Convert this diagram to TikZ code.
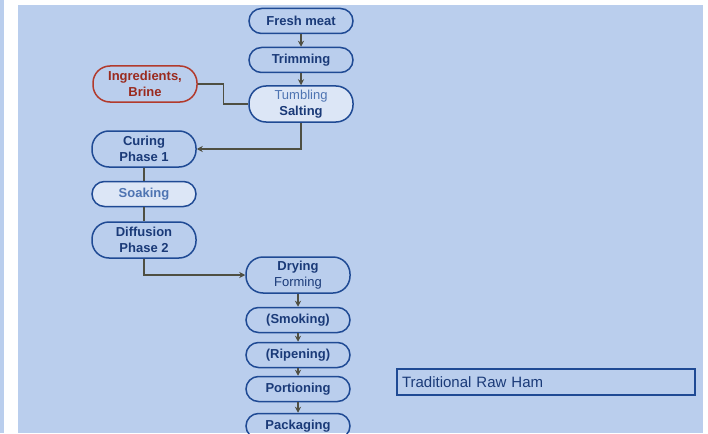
\documentclass[tikz,border=0pt]{standalone}
\usepackage{fontspec}
\setmainfont{Liberation Sans}
\usetikzlibrary{arrows.meta}
\definecolor{bgblue}{HTML}{BACEED}
\definecolor{boxline}{HTML}{1F4A94}
\definecolor{boxtext}{HTML}{1A3A78}
\definecolor{softtext}{HTML}{4E74B2}
\definecolor{softfill}{HTML}{DCE6F6}
\definecolor{brinered}{HTML}{B23A2C}
\definecolor{brinetext}{HTML}{9A2A1E}
\definecolor{flowline}{HTML}{4F4F42}
\tikzset{
  stepbox/.style={draw=boxline, line width=1.5pt, rounded corners=12.5pt,
    minimum width=104pt, minimum height=25pt, inner sep=0pt, align=center,
    text=boxtext, font=\fontsize{13}{16.5}\selectfont\bfseries},
  tallbox/.style={stepbox, minimum height=36pt, rounded corners=17pt},
  softbox/.style={fill=softfill},
  flow/.style={draw=flowline, line width=1.2pt},
  flowarrow/.style={flow, -{Stealth[length=6pt,width=6pt]}},
}
\begin{document}
\begin{tikzpicture}[x=1pt,y=-1pt]
  \useasboundingbox (0,0) rectangle (708,433);
  \clip (0,0) rectangle (708,433);
  % page background
  \fill[white] (0,0) rectangle (708,433);
  \fill[bgblue] (0,0) rectangle (4,433);
  \fill[bgblue] (18,5) rectangle (703,433);

  % process steps
  \node[stepbox] (fresh) at (301,21) {Fresh meat};
  \node[stepbox] (trim) at (301,60) {Trimming};
  \node[tallbox, softbox] (salt) at (301,104)
    {{\mdseries\color{softtext}Tumbling}\\Salting};
  \node[tallbox, draw=brinered, text=brinetext] (brine) at (145,84)
    {Ingredients,\\Brine};
  \node[tallbox] (cure) at (144,149) {Curing\\Phase 1};
  \node[stepbox, softbox, text=softtext] (soak) at (144,194) {Soaking};
  \node[tallbox] (diff) at (144,240) {Diffusion\\Phase 2};
  \node[tallbox] (dry) at (298,275) {Drying\\{\mdseries Forming}};
  \node[stepbox] (smoke) at (298,320) {(Smoking)};
  \node[stepbox] (ripen) at (298,355) {(Ripening)};
  \node[stepbox] (portion) at (298,389) {Portioning};
  \node[stepbox] (pack) at (298,426) {Packaging};

  % title box
  \node[draw=boxline, line width=1.2pt, minimum width=298pt, minimum height=26pt,
    inner sep=0pt, text=boxtext, font=\fontsize{15}{17}\selectfont,
    text width=288pt, align=left] (title) at (546,382) {Traditional Raw Ham};

  % connectors
  \draw[flowarrow] (fresh) -- (trim);
  \draw[flowarrow] (trim) -- (salt);
  \draw[flow] (brine.east) -- ++(26,0) |- (salt.west);
  \draw[flowarrow] (salt.south) |- (cure.east);
  \draw[flow] (cure) -- (soak);
  \draw[flow] (soak) -- (diff);
  \draw[flowarrow] (diff.south) |- (dry.west);
  \draw[flowarrow] (dry) -- (smoke);
  \draw[flowarrow] (smoke) -- (ripen);
  \draw[flowarrow] (ripen) -- (portion);
  \draw[flowarrow] (portion) -- (pack);
\end{tikzpicture}
\end{document}
